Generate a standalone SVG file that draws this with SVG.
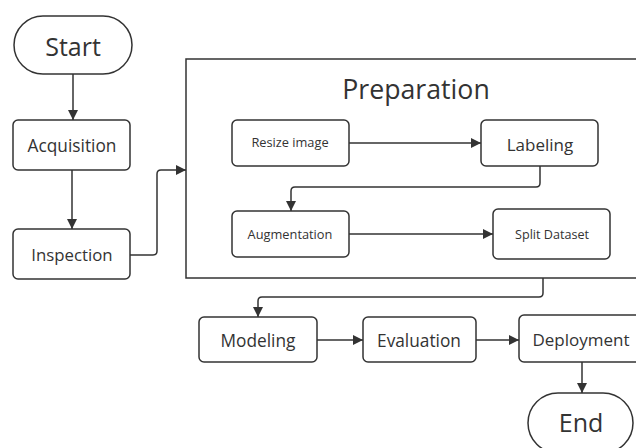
<svg xmlns="http://www.w3.org/2000/svg" width="636" height="448" viewBox="0 0 636 448">
<defs>
<marker id="ah" viewBox="0 0 10 10" refX="10" refY="5" markerWidth="10" markerHeight="10" markerUnits="userSpaceOnUse" orient="auto">
<path d="M0,0 L10,5 L0,10 Z" fill="#333"/>
</marker>
</defs>
<style>
.box{fill:#fff;stroke:#333;stroke-width:1.5}
.t{font-family:"Open Sans","Noto Sans",sans-serif;fill:#333;text-anchor:middle;dominant-baseline:central}
.c{fill:none;stroke:#333;stroke-width:1.5;marker-end:url(#ah)}
</style>
<rect width="636" height="448" fill="#fff"/>
<g id="start"><rect class="box" x="14" y="16" width="118" height="58" rx="29"/><text class="t" x="73" y="46" font-size="25">Start</text></g>
<g id="acquisition"><rect class="box" x="13" y="120" width="117" height="50" rx="5"/><text class="t" x="72" y="145" font-size="17.3">Acquisition</text></g>
<g id="inspection"><rect class="box" x="13" y="229" width="117" height="50" rx="5"/><text class="t" x="72" y="254" font-size="16.8">Inspection</text></g>
<g id="preparation"><rect class="box" x="186" y="59" width="460" height="219" rx="0"/><text class="t" x="416" y="88" font-size="26.7">Preparation</text></g>
<g id="resize"><rect class="box" x="232" y="120" width="117" height="46" rx="5"/><text class="t" x="290" y="142" font-size="12.8">Resize image</text></g>
<g id="labeling"><rect class="box" x="481" y="120" width="117" height="46" rx="5"/><text class="t" x="540" y="144" font-size="17">Labeling</text></g>
<g id="augmentation"><rect class="box" x="232" y="211" width="117" height="46" rx="5"/><text class="t" x="290" y="234" font-size="12.8">Augmentation</text></g>
<g id="split"><rect class="box" x="493" y="209" width="117" height="50" rx="5"/><text class="t" x="552" y="234" font-size="12.6">Split Dataset</text></g>
<g id="modeling"><rect class="box" x="199" y="317" width="118" height="45" rx="5"/><text class="t" x="258" y="340" font-size="17.3">Modeling</text></g>
<g id="evaluation"><rect class="box" x="363" y="317" width="113" height="45" rx="5"/><text class="t" x="419" y="340" font-size="17.3">Evaluation</text></g>
<g id="deployment"><rect class="box" x="519" y="315" width="130" height="47" rx="5"/><text class="t" x="581" y="339" font-size="17">Deployment</text></g>
<g id="end"><rect class="box" x="528" y="393" width="105" height="60" rx="30"/><text class="t" x="581" y="422" font-size="25">End</text></g>
<g id="connectors">
<path class="c" d="M73,74 V120"/>
<path class="c" d="M72,170 V229"/>
<path class="c" d="M130,255 H153 Q157,255 157,251 V174 Q157,170 161,170 H186"/>
<path class="c" d="M349,143 H481"/>
<path class="c" d="M540,166 V183 Q540,187 536,187 H295 Q291,187 291,191 V211"/>
<path class="c" d="M349,234 H493"/>
<path class="c" d="M543,278 V293 Q543,297 539,297 H262 Q258,297 258,301 V317"/>
<path class="c" d="M317,340 H363"/>
<path class="c" d="M476,340 H519"/>
<path class="c" d="M582,362 V393"/>
</g>
</svg>
